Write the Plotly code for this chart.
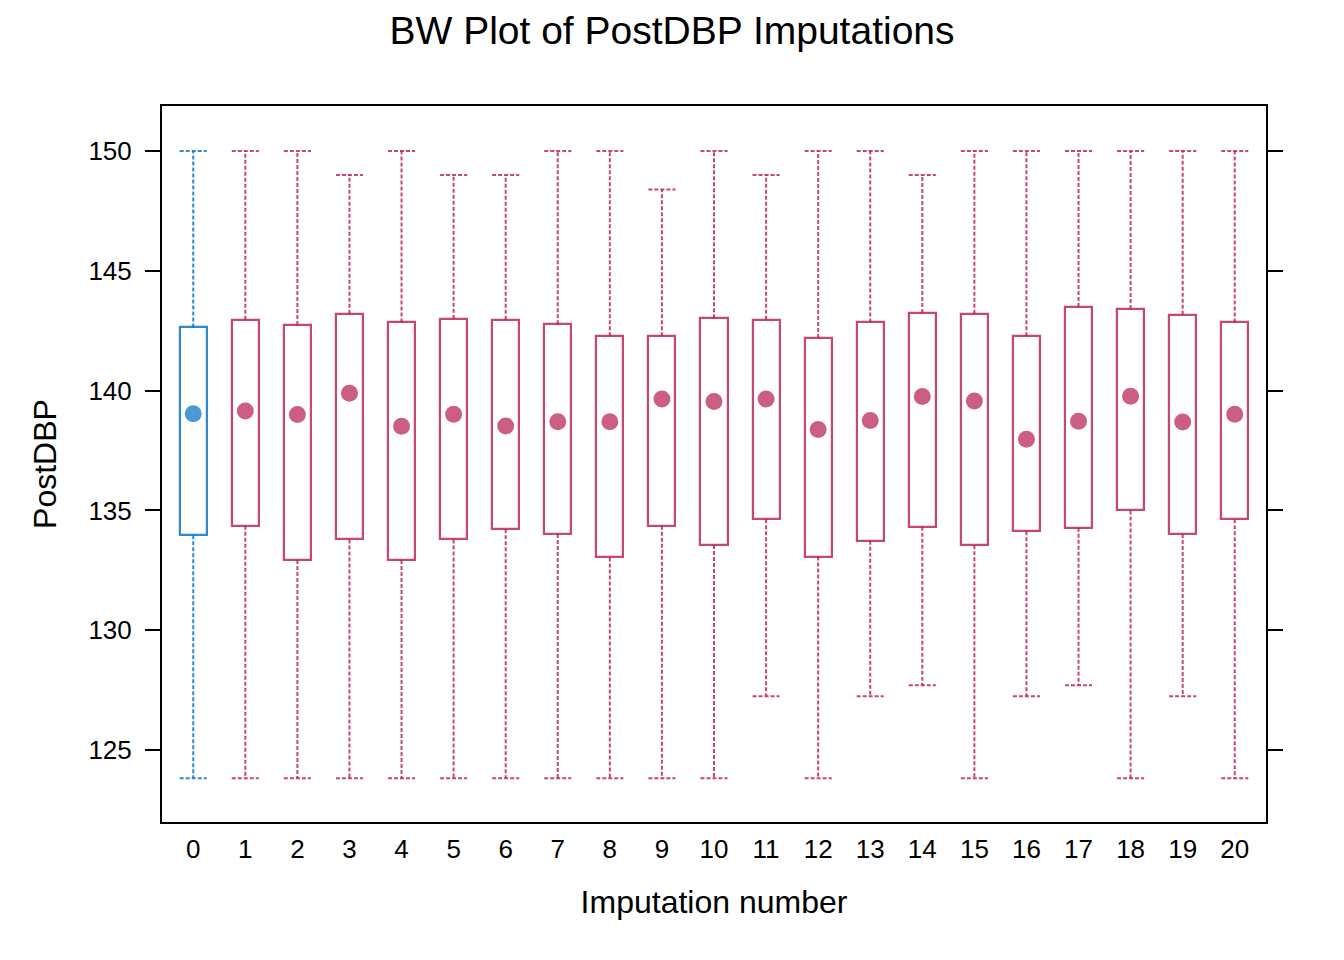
import plotly.graph_objects as go

# imputation number 0 = observed data, 1..20 = imputed data sets
imp = list(range(21))
lower = [123.83, 123.83, 123.83, 123.83, 123.83, 123.83, 123.83, 123.83, 123.83, 123.83, 123.83,
         127.25, 123.83, 127.25, 127.71, 123.83, 127.25, 127.71, 123.83, 127.25, 123.83]
q1 = [133.97, 134.36, 132.93, 133.79, 132.93, 133.79, 134.22, 134.02, 133.04, 134.36, 133.56,
      134.63, 133.08, 133.74, 134.32, 133.55, 134.13, 134.28, 135.00, 134.02, 134.63]
median = [139.04, 139.15, 139.01, 139.89, 138.52, 139.02, 138.53, 138.70, 138.70, 139.65, 139.55,
          139.65, 138.38, 138.76, 139.76, 139.57, 137.97, 138.72, 139.77, 138.69, 139.02]
q3 = [142.64, 142.96, 142.74, 143.21, 142.85, 143.00, 142.96, 142.77, 142.27, 142.27, 143.02,
      142.96, 142.20, 142.85, 143.24, 143.21, 142.27, 143.49, 143.41, 143.17, 142.85]
upper = [150.0, 150.0, 150.0, 149.0, 150.0, 149.0, 149.0, 150.0, 150.0, 148.4, 150.0,
         149.0, 150.0, 150.0, 149.0, 150.0, 150.0, 150.0, 150.0, 150.0, 150.0]

# (line colour, dot colour)
obs_col = ("rgba(0,108,194,0.8)", "rgba(0,108,194,0.7)")
imp_col = ("rgba(182,26,81,0.8)", "rgba(182,26,81,0.7)")
FONT = "Liberation Sans, Arial, Helvetica, sans-serif"
half = 0.26  # half box width in category units


def add_group(fig, idx, col):
    line_col, dot_col = col
    xs = [imp[i] for i in idx]
    # box body
    fig.add_trace(go.Bar(
        x=xs, base=[q1[i] for i in idx], y=[q3[i] - q1[i] for i in idx],
        width=2 * half, marker=dict(color="white", line=dict(color=line_col, width=2.2)),
        showlegend=False, hoverinfo="skip"))
    # whiskers and caps (dashed)
    wx, wy = [], []
    for i in idx:
        wx += [imp[i], imp[i], None, imp[i], imp[i], None]
        wy += [q3[i], upper[i], None, q1[i], lower[i], None]
        wx += [imp[i] - half, imp[i] + half, None, imp[i] - half, imp[i] + half, None]
        wy += [upper[i], upper[i], None, lower[i], lower[i], None]
    fig.add_trace(go.Scatter(
        x=wx, y=wy, mode="lines", line=dict(color=line_col, width=2, dash="4px,2px"),
        showlegend=False, hoverinfo="skip"))
    # median dots
    fig.add_trace(go.Scatter(
        x=xs, y=[median[i] for i in idx], mode="markers",
        marker=dict(color=dot_col, size=17, line=dict(width=0)),
        showlegend=False))


fig = go.Figure()
add_group(fig, [0], obs_col)
add_group(fig, list(range(1, 21)), imp_col)

# the page body adds 8px, so margins are shifted up/left by 8
fig.update_layout(
    width=1344, height=960,
    paper_bgcolor="white", plot_bgcolor="white",
    margin=dict(l=154, r=86, t=98, b=146),
    font=dict(family=FONT, color="black"),
    title=dict(text="BW Plot of PostDBP Imputations", x=0.5 - 8 / 1344, xanchor="center",
               y=1 - 22 / 960, yanchor="middle", yref="container",
               font=dict(size=39, family=FONT, color="black")),
    bargap=0,
)
fig.update_xaxes(
    range=[-0.6, 20.6], tickmode="array", tickvals=imp, ticktext=[str(v) for v in imp],
    showgrid=False, zeroline=False, showline=True, linecolor="black", linewidth=2,
    mirror=True, ticks="", ticklabelstandoff=3, tickfont=dict(size=26),
    title=dict(text="Imputation number", font=dict(size=32), standoff=27))
fig.update_yaxes(
    range=[122.0, 151.88], tickmode="array", tickvals=[125, 130, 135, 140, 145, 150],
    showgrid=False, zeroline=False, showline=True, linecolor="black", linewidth=2,
    mirror="ticks", ticks="outside", ticklen=15, tickwidth=2, tickcolor="black",
    ticklabelstandoff=8, tickfont=dict(size=26),
    title=dict(text="PostDBP", font=dict(size=32), standoff=22))

fig.write_html("out.html")
